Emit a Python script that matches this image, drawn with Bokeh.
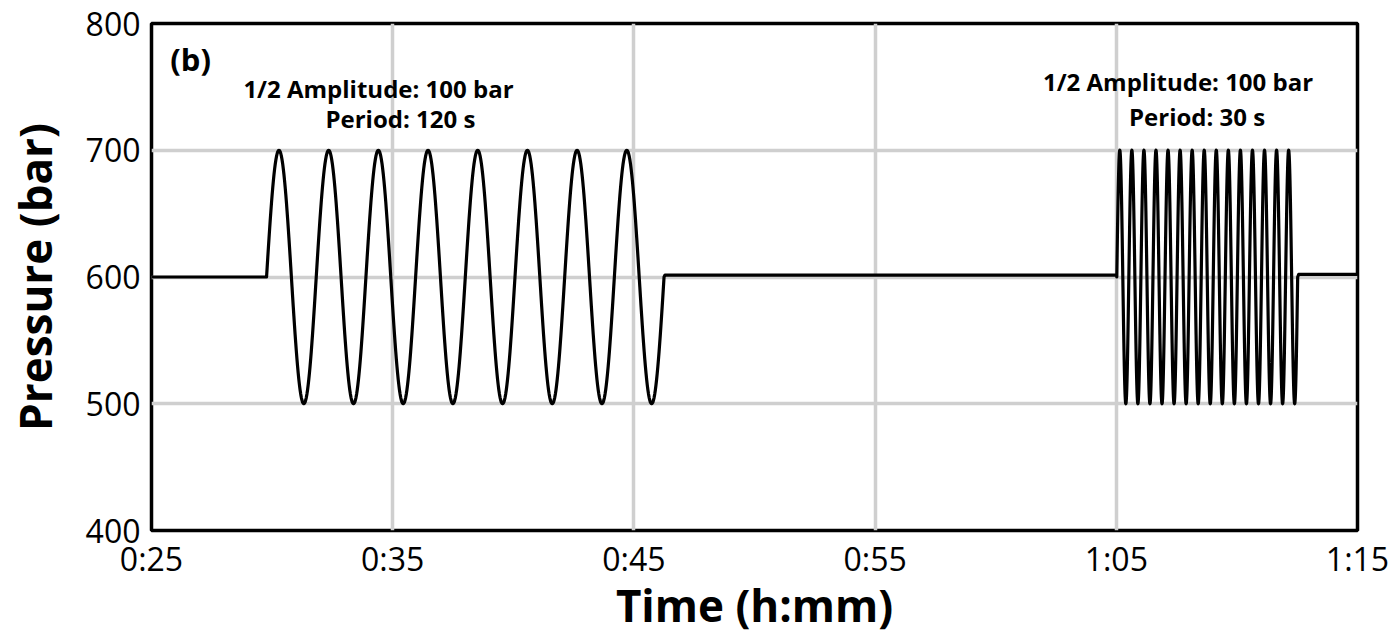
import numpy as np
from bokeh.plotting import figure
from bokeh.models import Range1d, FixedTicker, Label
from bokeh.embed import file_html
from bokeh.resources import INLINE

# ---- data ----
x_ticks = [25, 35, 45, 55, 65, 75]            # minutes
x_tick_labels = ["0:25", "0:35", "0:45", "0:55", "1:05", "1:15"]
y_ticks = [400, 500, 600, 700, 800]

base_levels = [600.0, 601.5, 602.0]           # flat pressure before / between / after bursts (bar)
burst_start_min = [29.77, 65.02]              # burst start time (min)
burst_period_min = [2.06, 0.50]               # period as drawn (min)
burst_cycles = [8, 15]                        # number of full cycles
burst_half_amp = [100.0, 100.0]               # 1/2 amplitude (bar)
burst_center = [600.0, 600.0]                 # mean pressure during burst (bar)

annot_lines = ["1/2 Amplitude: 100 bar", "Period: 120 s", "1/2 Amplitude: 100 bar", "Period: 30 s"]
t_min, t_max = 25.0, 75.0

# ---- build the trace ----
ts, ps = [], []
ts.append(t_min); ps.append(base_levels[0])
for i in range(len(burst_start_min)):
    t0 = burst_start_min[i]
    T = burst_period_min[i]
    n = burst_cycles[i]
    ts.append(t0); ps.append(base_levels[i])
    tb = np.linspace(t0, t0 + n * T, n * 80 + 1)
    pb = burst_center[i] + burst_half_amp[i] * np.sin(2 * np.pi * (tb - t0) / T)
    ts.extend(tb.tolist()); ps.extend(pb.tolist())
    ts.append(t0 + n * T + 0.04); ps.append(base_levels[i + 1])
ts.append(t_max); ps.append(base_levels[-1])

p = figure(width=1397, height=638, output_backend="svg", toolbar_location=None,
           x_range=Range1d(t_min, t_max), y_range=Range1d(400, 800),
           min_border_left=151, min_border_right=40, min_border_top=23, min_border_bottom=108)

p.line(ts, ps, line_color="black", line_width=3.2, line_join="round")

p.outline_line_color = "black"
p.outline_line_width = 3.5

p.xaxis.ticker = FixedTicker(ticks=x_ticks)
p.xaxis.major_label_overrides = {t: s for t, s in zip(x_ticks, x_tick_labels)}
p.yaxis.ticker = FixedTicker(ticks=y_ticks)

for ax in (p.xaxis, p.yaxis):
    ax.axis_line_color = None
    ax.major_tick_line_color = None
    ax.minor_tick_line_color = None
    ax.major_tick_out = 0
    ax.major_tick_in = 0
    ax.minor_tick_out = 0
    ax.major_label_text_font = "Open Sans"
    ax.major_label_text_font_size = "32px"
    ax.major_label_text_color = "black"
    ax.axis_label_text_font = "Open Sans"
    ax.axis_label_text_font_style = "bold"
    ax.axis_label_text_font_size = "44px"
    ax.axis_label_text_color = "black"

p.xaxis.axis_label = "Time (h:mm)"
p.yaxis.axis_label = "Pressure (bar)"
p.xaxis.major_label_standoff = 6
p.yaxis.major_label_standoff = 11
p.xaxis.axis_label_standoff = -8
p.yaxis.axis_label_standoff = 18

p.xgrid.grid_line_color = "#cfcfcf"
p.ygrid.grid_line_color = "#cfcfcf"
p.xgrid.grid_line_width = 3.5
p.ygrid.grid_line_width = 3.5

p.add_layout(Label(x=26.62, y=772, text="(b)", text_align="center", text_baseline="middle",
                   text_font="Open Sans", text_font_style="bold", text_font_size="31px",
                   text_color="black"))
ann_pos = [(34.41, 749), (35.32, 725), (67.56, 754), (68.35, 727)]
for (ax_, ay_), txt in zip(ann_pos, annot_lines):
    p.add_layout(Label(x=ax_, y=ay_, text=txt, text_align="center", text_baseline="middle",
                       text_font="Open Sans", text_font_style="bold", text_font_size="24px",
                       text_color="black"))

open("out.html", "w").write(file_html(p, INLINE))
